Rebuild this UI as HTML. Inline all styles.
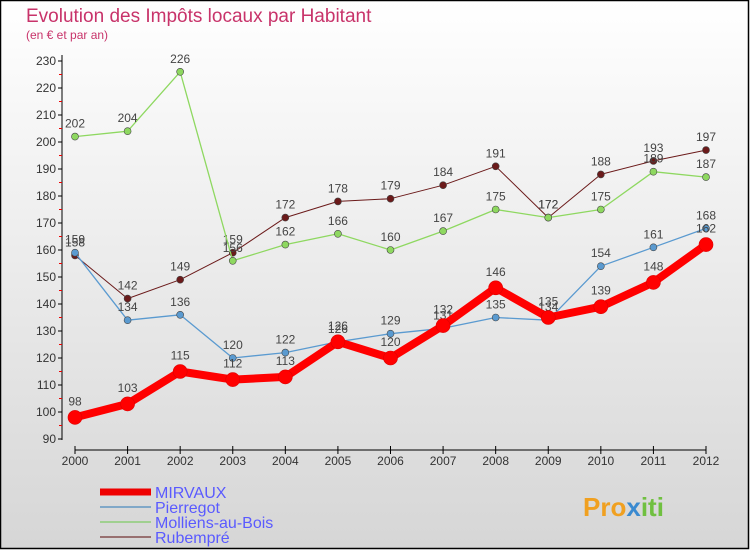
<!DOCTYPE html>
<html><head><meta charset="utf-8"><style>
body{margin:0;width:750px;height:550px;overflow:hidden;font-family:"Liberation Sans",sans-serif}
</style></head><body>
<svg id="c" width="750" height="550" xmlns="http://www.w3.org/2000/svg">
<defs><linearGradient id="bg" x1="0" y1="0" x2="0" y2="1"><stop offset="0" stop-color="#ffffff"/><stop offset="1" stop-color="#d6d6d6"/></linearGradient></defs>
<rect x="0.5" y="0.5" width="748" height="548" fill="url(#bg)" stroke="#000" stroke-width="1.5"/>
<text x="26" y="22" font-size="19" fill="#c8336a">Evolution des Impôts locaux par Habitant</text>
<text x="26" y="39" font-size="12" fill="#c8336a">(en € et par an)</text>
<g id="axes"></g><g id="series"></g><g id="legend"></g>
<text x="583" y="516" font-size="26" font-weight="bold" fill="#f0a020">Pro<tspan fill="#3a8ad0">x</tspan><tspan fill="#70c040">iti</tspan></text>
</svg>
<script>
const years=[2000,2001,2002,2003,2004,2005,2006,2007,2008,2009,2010,2011,2012];
const yTicks=[90,100,110,120,130,140,150,160,170,180,190,200,210,220,230];
const mirvaux=[98,103,115,112,113,126,120,132,146,135,139,148,162];
const pierregot=[159,134,136,120,122,126,129,131,135,134,154,161,168];
const molliens=[202,204,226,156,162,166,160,167,175,172,175,189,187];
const rubempre=[158,142,149,159,172,178,179,184,191,172,188,193,197];
const NS="http://www.w3.org/2000/svg";
const X=i=>75+i*(706-75)/12;
const Y=v=>439-(v-90)*(439-61)/140;
function el(t,a,p){const e=document.createElementNS(NS,t);for(const k in a)e.setAttribute(k,a[k]);p.appendChild(e);return e;}
const ax=document.getElementById('axes');
let l=el('line',{x1:62,y1:55,x2:62,y2:440,stroke:'#000'},ax);


l=el('line',{x1:X(0),y1:450,x2:X(years.length-1),y2:450,stroke:'#000'},ax);


yTicks.forEach(v=>{
 el('line',{x1:58,y1:Y(v),x2:62,y2:Y(v),stroke:'#000'},ax);
 if(v<230)el('line',{x1:59,y1:Y(v+5),x2:62,y2:Y(v+5),stroke:'#e00'},ax);
 const t=el('text',{x:56,y:Y(v)+4,'font-size':12,'text-anchor':'end',fill:'#333'},ax);t.textContent=v;
 
 
});
years.forEach((y,i)=>{
 el('line',{x1:X(i),y1:446,x2:X(i),y2:454,stroke:'#000'},ax);
 const t=el('text',{x:X(i),y:465,'font-size':12,'text-anchor':'middle',fill:'#333'},ax);t.textContent=y;
 
 
});
const sg=document.getElementById('series');
const defs=[
 {d:rubempre,c:'#6b1a1a',w:1,r:3.5,n:'rubempre',lab:'Rubempré',lc:'#987070'},
 {d:molliens,c:'#8ed860',w:1.3,r:3.5,n:'molliens',lab:'Molliens-au-Bois',lc:'#a0d090'},
 {d:pierregot,c:'#5a9ad0',w:1.3,r:3.5,n:'pierregot',lab:'Pierregot',lc:'#80a8c8'},
 {d:mirvaux,c:'#ff0000',w:8,r:7,n:'mirvaux',lab:'MIRVAUX',lc:'#ee0000'}];
defs.forEach(s=>{
 const g=el('g',{},sg);
 
 
 const p=el('polyline',{points:s.d.map((v,i)=>X(i)+','+Y(v)).join(' '),fill:'none',stroke:s.c,'stroke-width':s.w,'stroke-linejoin':'round'},g);
 
 
 s.d.forEach((v,i)=>{
  const pt=el('circle',{cx:X(i),cy:Y(v),r:s.r,fill:s.c,stroke:s.n=='mirvaux'?'#d00':'#444','stroke-width':0.6},g);
  
  
  const t=el('text',{x:X(i),y:Y(v)-(s.n=='mirvaux'?12:9),'font-size':12,'text-anchor':'middle',fill:'#444'},g);t.textContent=v;
  
  
 });
});
const lg=document.getElementById('legend');
[defs[3],defs[2],defs[1],defs[0]].forEach((s,i)=>{
 const y=492+i*15;
 const g=el('g',{},lg);
 
 
 el('line',{x1:100,y1:y,x2:151,y2:y,stroke:s.lc,'stroke-width':s.n=='mirvaux'?7:2},g);
 const t=el('text',{x:155,y:y+6,'font-size':16,fill:'#5a5aff'},g);t.textContent=s.lab;
});
</script>
</body></html>
